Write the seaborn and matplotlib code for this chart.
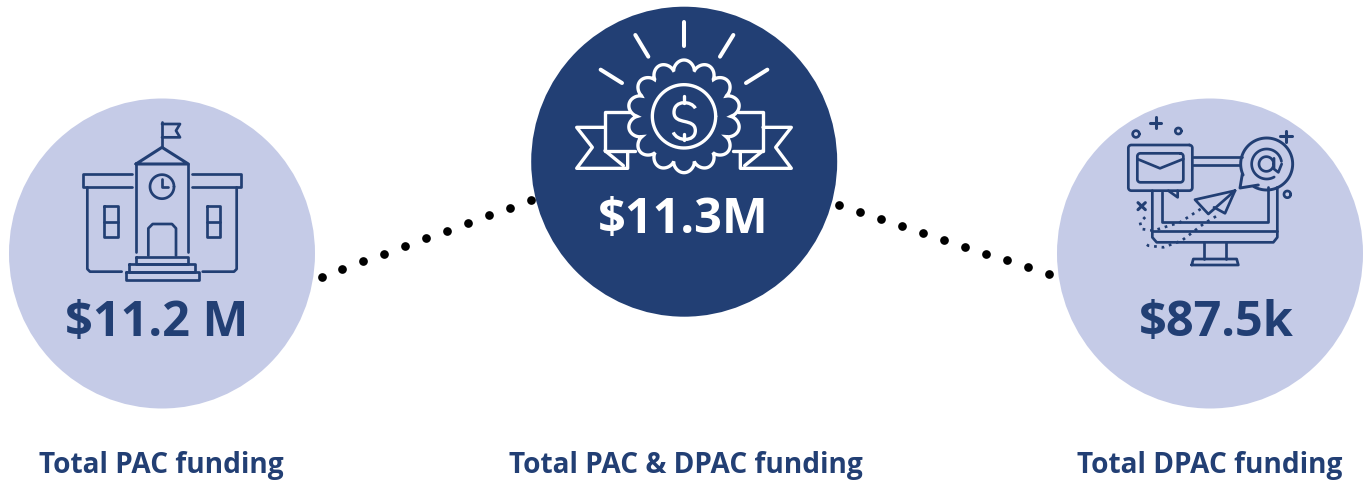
import numpy as np
import pandas as pd
import matplotlib
matplotlib.use('Agg')
import matplotlib.pyplot as plt
from matplotlib.path import Path
from matplotlib.patches import PathPatch, Ellipse
import seaborn as sns

DARK = '#223F74'
LIGHT = '#C5CBE7'

# funding figures and captions
value_labels = ['$11.2 M', '$11.3M', '$87.5k']
caption_labels = ['Total PAC funding', 'Total PAC & DPAC funding', 'Total DPAC funding']

# big discs in pixels (a bit taller than wide)
disc_x = [162, 684.2, 1210]
disc_y = [254.5, 162.7, 254.5]
disc_colors = [LIGHT, DARK, LIGHT]

# dotted connectors
left_dots_x = [321.7, 342.3, 363.3, 384.3, 405.3, 426.3, 447.3, 468.3, 489.3, 510.3, 531.3]
left_dots_y = [277.7, 270.0, 262.3, 254.7, 247.0, 239.3, 231.7, 224.0, 216.3, 209.0, 201.3]
right_dots_x = [838.7, 860.0, 881.0, 902.0, 923.0, 944.0, 965.0, 986.0, 1007.3, 1028.3, 1049.3]
right_dots_y = [206.3, 213.3, 220.3, 227.3, 234.0, 241.0, 247.7, 254.7, 261.3, 268.3, 275.0]

sns.set_theme(style='white')
plt.rcParams['font.family'] = ['Open Sans', 'DejaVu Sans']

fig, ax = plt.subplots(figsize=(13.71, 4.81), dpi=100)
fig.subplots_adjust(0, 0, 1, 1)

for cx, cy, col in zip(disc_x, disc_y, disc_colors):
    ax.add_patch(Ellipse((cx, cy), 306, 310, facecolor=col, edgecolor='none', zorder=1))

dots = pd.DataFrame({'x': left_dots_x + right_dots_x, 'y': left_dots_y + right_dots_y})
sns.scatterplot(data=dots, x='x', y='y', color='black', s=(8.7 * 0.72) ** 2, linewidth=0, ax=ax, zorder=2)

ax.set_xlim(0, 1371)
ax.set_ylim(481, 0)
ax.axis('off')


def line(pts, off, color=DARK, lw=1.95, close=False, ls='-', zorder=3):
    xs = [p[0] / 3 + off[0] for p in pts]
    ys = [p[1] / 3 + off[1] for p in pts]
    if close:
        xs.append(xs[0])
        ys.append(ys[0])
    ax.plot(xs, ys, color=color, lw=lw, ls=ls, solid_joinstyle='round', solid_capstyle='round', zorder=zorder)


def rect(x0, y0, x1, y1, off, **kw):
    line([(x0, y0), (x1, y0), (x1, y1), (x0, y1)], off, close=True, **kw)


def arc(cx, cy, r, off, a0=0, a1=360, **kw):
    t = np.radians(np.linspace(a0, a1, 80))
    line(list(zip(cx + r * np.cos(t), cy + r * np.sin(t))), off, **kw)


def round_rect(x0, y0, x1, y1, r):
    pts = []
    for cx, cy, a in [(x1 - r, y0 + r, -90), (x1 - r, y1 - r, 0), (x0 + r, y1 - r, 90), (x0 + r, y0 + r, 180)]:
        t = np.radians(np.linspace(a, a + 90, 8))
        pts += list(zip(cx + r * np.cos(t), cy + r * np.sin(t)))
    return pts


# school
off = (60, 110)
line([(306, 115), (306, 38)], off)
line([(306, 45), (360, 45), (348, 65), (360, 85), (306, 85)], off)
line([(228, 165), (306, 115), (385, 165)], off, close=True, lw=2.2)
line([(228, 165), (228, 430)], off)
line([(385, 165), (385, 430)], off)
line([(215, 195), (70, 195), (70, 235), (215, 235)], off)
line([(397, 195), (543, 195), (543, 235), (397, 235)], off)
line([(82, 235), (82, 480), (90, 488), (185, 488)], off)
line([(530, 235), (530, 480), (522, 488), (428, 488)], off)
arc(306, 233, 36, off)
line([(306, 210), (306, 235), (325, 235)], off)
for wx in (133, 440):
    rect(wx, 292, wx + 40, 384, off)
    line([(wx, 338), (wx + 40, 338)], off)
line([(265, 440), (265, 358), (278, 345), (336, 345), (348, 358), (348, 440)], off)
rect(228, 443, 385, 465, off)
rect(208, 465, 405, 488, off)
rect(197, 488, 417, 512, off)

# medal
off = (560, 10)
W = 'white'
for seg in [[(372, 40), (372, 112)], [(226, 78), (265, 143)], [(122, 182), (186, 222)],
            [(520, 78), (480, 143)], [(622, 182), (558, 222)]]:
    line(seg, off, color=W, lw=2.9)
for m in (False, True):
    fx = (lambda p: (744 - p[0], p[1])) if m else (lambda p: p)
    line([fx(p) for p in [(210, 310), (135, 310), (135, 425), (225, 425)]], off, color=W, lw=2.4)
    line([fx(p) for p in [(135, 355), (50, 355), (97, 415), (50, 478), (203, 478), (203, 430)]], off, color=W, lw=2.4)
    line([fx(p) for p in [(135, 425), (190, 470)]], off, color=W, lw=2.4)
th = np.linspace(0, 2 * np.pi, 800)
rad = 138 + 31 * np.abs(np.cos(7 * th)) ** 0.6
fl_x = (372 + rad * np.sin(th)) / 3 + off[0]
fl_y = (322 - rad * np.cos(th)) / 3 + off[1]
ax.fill(fl_x, fl_y, facecolor=DARK, edgecolor=W, lw=2.4, zorder=4)
arc(372, 322, 95, off, color=W, lw=2.4, zorder=5)
s_path = Path([(406, 298), (395, 275), (342, 272), (342, 310), (342, 350), (406, 325), (406, 365), (406, 400), (350, 398), (340, 370)],
              [Path.MOVETO] + [Path.CURVE4] * 9)
s_path = Path(s_path.vertices / 3 + off, s_path.codes)
ax.add_patch(PathPatch(s_path, fc='none', ec=W, lw=2.4, zorder=5))
line([(372, 262), (372, 282)], off, color=W, lw=2.4, zorder=5)
line([(372, 375), (372, 394)], off, color=W, lw=2.4, zorder=5)

# monitor with mail
off = (1110, 110)
line([(127, 245), (127, 385), (140, 400), (490, 400), (502, 385), (502, 235)], off)
line([(127, 365), (502, 365)], off)
line([(155, 250), (155, 340), (473, 340), (473, 235)], off)
line([(248, 145), (395, 145)], off)
line([(248, 168), (390, 168)], off)
line([(283, 400), (283, 450)], off)
line([(347, 400), (347, 450)], off)
line([(245, 468), (385, 468), (380, 450), (250, 450)], off, close=True)
line(round_rect(55, 108, 247, 245, 9), off, close=True)
line([(175, 245), (203, 265), (203, 245)], off)
line(round_rect(82, 133, 220, 220, 9), off, close=True)
line([(82, 150), (150, 178), (220, 150)], off)
arc(470, 165, 78, off, a0=155, a1=480, lw=2.1)
line([(397, 195), (390, 237), (445, 228)], off, lw=2.1)
arc(470, 165, 45, off, a0=60, a1=350)
arc(469, 165, 22, off)
line([(492, 148), (492, 180), (505, 190), (515, 165)], off)
arc(78, 75, 10, off)
arc(205, 66, 9, off)
arc(532, 256, 10, off)
line([(120, 42), (154, 42)], off, lw=2.2)
line([(137, 25), (137, 58)], off, lw=2.2)
line([(511, 82), (545, 82)], off, lw=2.2)
line([(528, 65), (528, 98)], off, lw=2.2)
line([(84, 281), (106, 302)], off, lw=2.2)
line([(106, 281), (84, 302)], off, lw=2.2)
line([(375, 245), (255, 272), (295, 315)], off, close=True)
line([(375, 245), (345, 313), (312, 295)], off)
line([(318, 322), (280, 345), (215, 395), (160, 415), (115, 410), (100, 400)], off, ls=(0, (1, 1.8)))
line([(272, 300), (210, 340), (130, 365), (95, 360), (90, 340), (108, 322)], off, ls=(0, (1, 1.8)))

# values inside the discs, placed on their baselines
for cx, by, lab, col in zip([156.5, 683.2, 1216.5], [336.5, 233.3, 336.5], value_labels, [DARK, 'white', DARK]):
    ax.text(cx, by, lab, color=col, fontsize=35, fontweight='bold', ha='center', va='baseline', zorder=6)

# captions under the discs
for cx, lab in zip([161.5, 686, 1210], caption_labels):
    ax.text(cx, 473, lab, color=DARK, fontsize=20.2, fontweight='bold', ha='center', va='baseline')

fig.savefig('out.png', dpi=100, facecolor='white')
